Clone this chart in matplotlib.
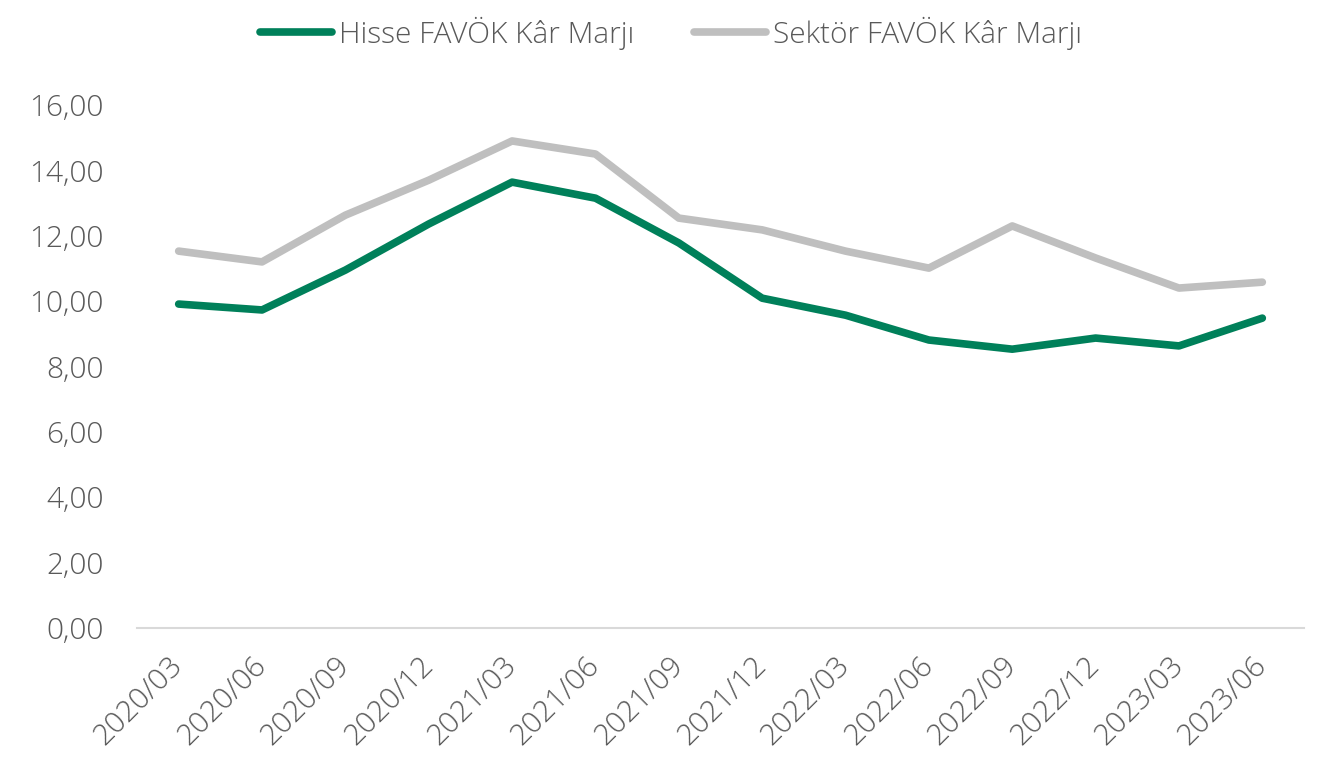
import matplotlib
matplotlib.use("Agg")
import matplotlib.pyplot as plt

categories = ["2020/03", "2020/06", "2020/09", "2020/12", "2021/03", "2021/06", "2021/09",
              "2021/12", "2022/03", "2022/06", "2022/09", "2022/12", "2023/03", "2023/06"]
hisse = [9.91, 9.73, 10.95, 12.36, 13.64, 13.15, 11.78, 10.09, 9.57, 8.81, 8.53, 8.87, 8.63, 9.48]
sektor = [11.53, 11.20, 12.63, 13.70, 14.90, 14.50, 12.54, 12.18, 11.53, 11.01, 12.30, 11.32, 10.40, 10.58]
yticks = [0, 2, 4, 6, 8, 10, 12, 14, 16]

plt.rcParams['font.family'] = ['Open Sans', 'DejaVu Sans']
txt = '#595959'
fs = 21.5

fig = plt.figure(figsize=(13.42, 7.76), dpi=100)
ax = fig.add_axes([137/1342, 1 - 628/776, (1304-137)/1342, (628-105)/776])

x = list(range(len(categories)))
ax.plot(x, hisse, color='#00805A', lw=5.5, label='Hisse FAVÖK Kâr Marjı', solid_capstyle='round')
ax.plot(x, sektor, color='#BFBFBF', lw=5.5, label='Sektör FAVÖK Kâr Marjı', solid_capstyle='round')

ax.set_xlim(-0.5, len(categories) - 0.5)
ax.set_ylim(0, 16)
ax.set_yticks(yticks)
ax.set_yticklabels([f"{v:.2f}".replace('.', ',') for v in yticks], fontsize=fs, color=txt, fontweight='light')
ax.set_xticks(x)
ax.set_xticklabels(categories, rotation=45, ha='right', va='center', rotation_mode='anchor',
                   fontsize=fs, color=txt, fontweight='light')
ax.tick_params(axis='y', length=0, pad=24)
ax.tick_params(axis='x', length=0, pad=24)
for s in ['top', 'right', 'left']:
    ax.spines[s].set_visible(False)
ax.spines['bottom'].set_color('#D9D9D9')
ax.spines['bottom'].set_linewidth(1.5)

leg = fig.legend(loc='center', bbox_to_anchor=(0.5, 1 - 33/776), ncol=2, frameon=False,
                 fontsize=fs, handlelength=2.4, columnspacing=2.0, handletextpad=0.25)
for t in leg.get_texts():
    t.set_color(txt)
    t.set_fontweight('light')

fig.savefig('out.png', dpi=100)
